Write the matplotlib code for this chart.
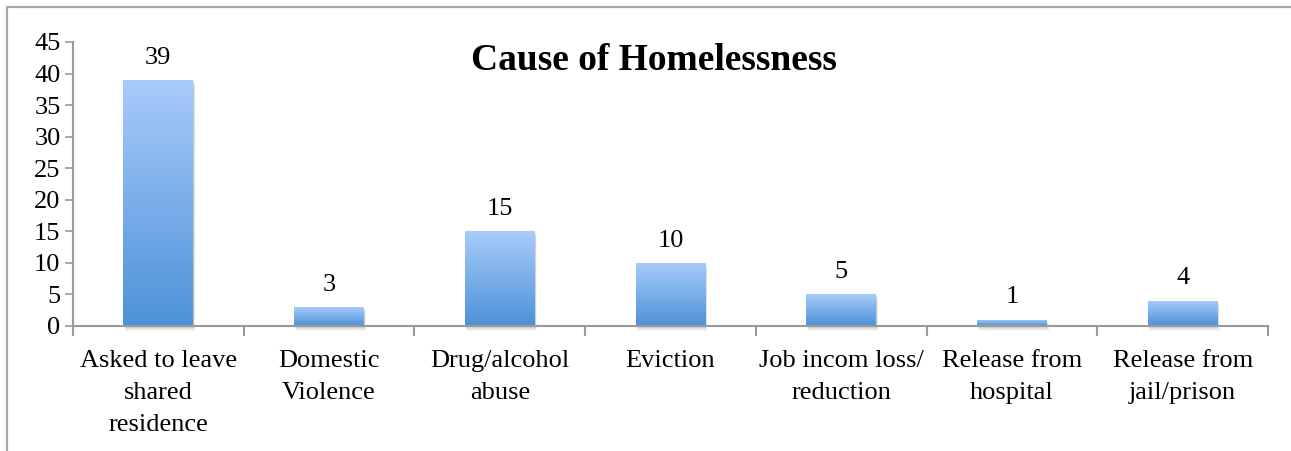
import numpy as np
import matplotlib.pyplot as plt
import matplotlib.transforms as mtransforms
from matplotlib.colors import LinearSegmentedColormap
from matplotlib.patches import Rectangle

plt.rcParams['font.family'] = ['Liberation Serif', 'DejaVu Serif']

# Survey counts by reported cause
categories = ['Asked to leave\nshared\nresidence', 'Domestic\nViolence', 'Drug/alcohol\nabuse',
              'Eviction', 'Job incom loss/\nreduction', 'Release from\nhospital', 'Release from\njail/prison']
counts = [39, 3, 15, 10, 5, 1, 4]

fig = plt.figure(figsize=(12.91, 4.51), dpi=100)
ax = fig.add_axes([73 / 1291, 125 / 451, 1195 / 1291, 284 / 451])

# outer chart frame
fig.patches.append(Rectangle((7 / 1291, -0.1), 1.2, (451 - 7) / 451 + 0.1, transform=fig.transFigure,
                             fill=False, edgecolor='#a8a8a8', linewidth=1.6, zorder=0))

grad = LinearSegmentedColormap.from_list('bar', ['#4d91d8', '#a8ccfb'])
gradimg = np.linspace(0, 1, 256).reshape(-1, 1)

x = np.arange(len(categories))
width = 0.41
bars = ax.bar(x, counts, width, color='none', edgecolor='none', zorder=2)
for b, v in zip(bars, counts):
    x0 = b.get_x()
    # soft drop shadow underneath
    for k, a in [(5, 0.05), (4, 0.06), (3, 0.08), (2, 0.1), (1, 0.12)]:
        sh = Rectangle((x0, 0), width, v, facecolor='#606060', edgecolor='none', alpha=a, zorder=1,
                       clip_on=False)
        ax.add_patch(sh)
        sh.set_transform(ax.transData + mtransforms.ScaledTranslation(k / 250, -k / 100, fig.dpi_scale_trans))
    im = ax.imshow(gradimg, cmap=grad, origin='lower', aspect='auto',
                   extent=(x0, x0 + width, 0, v), zorder=3, interpolation='bilinear')
    im.set_clip_path(b)
    ax.text(b.get_x() + width / 2, v + 1.8, str(v), ha='center', va='bottom', fontsize=19)

ax.set_xlim(-0.5, len(categories) - 0.5)
ax.set_ylim(0, 45)
ax.set_yticks(np.arange(0, 46, 5))
ax.set_xticks(np.arange(-0.5, len(categories), 1))
ax.set_xticklabels([])
ax.set_xticks(x, minor=True)
ax.set_xticklabels(categories, minor=True, fontsize=19, linespacing=1.6)
ax.tick_params(axis='x', which='minor', length=0, pad=17)
ax.tick_params(axis='x', which='major', length=7, width=1.5, color='#9a9a9a', direction='out')
ax.tick_params(axis='y', length=6, width=1.2, color='#9a9a9a', labelsize=19, pad=3)
for s in ['top', 'right']:
    ax.spines[s].set_visible(False)
for s in ['left', 'bottom']:
    ax.spines[s].set_color('#9a9a9a')
    ax.spines[s].set_linewidth(1.5)
    ax.spines[s].set_zorder(4)

fig.text(654 / 1291, (451 - 61) / 451, 'Cause of Homelessness', ha='center', va='center',
         fontsize=27, fontweight='bold')

fig.savefig('out.png', dpi=100)
